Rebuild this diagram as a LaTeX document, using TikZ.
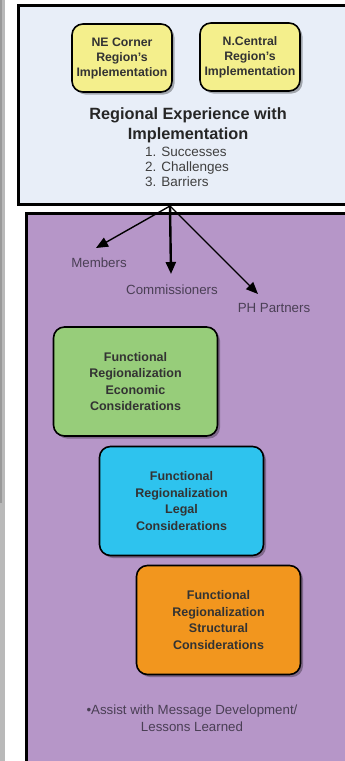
\documentclass[tikz,border=0pt]{standalone}
\usepackage{fontspec}
\setmainfont{Liberation Sans}
\usetikzlibrary{arrows.meta,shadows}
\definecolor{topbg}{HTML}{E8EEF8}
\definecolor{purp}{HTML}{B696C8}
\definecolor{yel}{HTML}{F4EF8C}
\definecolor{grn}{HTML}{97CD7A}
\definecolor{blu}{HTML}{2EC3EE}
\definecolor{org}{HTML}{F2961E}
\definecolor{lbl}{HTML}{4A3F55}
\tikzset{
  cbox/.style={draw=black, line width=1.6pt, rounded corners=11pt, align=center,
    inner sep=0pt, font=\bfseries, text=black!80,
    drop shadow={shadow xshift=2.5pt, shadow yshift=-2.5pt, fill=black, opacity=.3}},
  ybox/.style={cbox, fill=yel, minimum width=100pt, minimum height=68pt,
    font=\fontsize{12.3}{15}\selectfont\bfseries},
  fbox/.style={cbox, minimum width=164pt, minimum height=109pt,
    font=\fontsize{12.5}{16.5}\selectfont\bfseries},
  lab/.style={text=lbl, font=\fontsize{13.3}{16}\selectfont, inner sep=0pt},
  arr/.style={-{Triangle[length=12pt,width=10pt]}, line width=1.4pt, black}
}
\begin{document}
\begin{tikzpicture}[x=1pt,y=-1pt]
\useasboundingbox (0,0) rectangle (345,761);
% left gray strip
\fill[gray!55] (0,0) rectangle (5,761);
\fill[gray!80] (0,0) rectangle (2,503);
% top panel
\draw[fill=topbg, line width=3pt] (18,5) rectangle (352,204);
% purple panel
\draw[fill=purp, line width=3pt] (26.5,213.5) rectangle (352,775);
% yellow boxes
\node[ybox] (ne) at (122,58) {NE Corner\\Region's\\Implementation};
\node[ybox] (nc) at (250,57) {N.Central\\Region's\\Implementation};
% regional experience text
\node[align=center, inner sep=0pt, text=black!85, font=\fontsize{16.3}{20}\selectfont\bfseries] (reg) at (188,125)
  {Regional Experience with\\Implementation};
\node[align=left, inner sep=0pt, text=black!75, font=\fontsize{13.5}{15}\selectfont, anchor=north west] (list) at (145,147)
  {1. Successes\\2. Challenges\\3. Barriers};
% arrows
\coordinate (src) at (170,206);
\coordinate (tipM) at (96,248);
\coordinate (tipC) at (171,274);
\coordinate (tipP) at (258,294);
\draw[arr] (src) -- (tipM);
\draw[arr, line width=2.4pt] (src) -- (tipC);
\draw[arr] (src) -- (tipP);
\node[lab] (mem) at (99,263) {Members};
\node[lab] (com) at (172,290) {Commissioners};
\node[lab] (ph) at (274,308) {PH Partners};
% functional boxes
\node[fbox, fill=grn] (eco) at (135.5,381.5) {Functional\\Regionalization\\Economic\\Considerations};
\node[fbox, fill=blu] (leg) at (181.5,501) {Functional\\Regionalization\\Legal\\Considerations};
\node[fbox, fill=org] (str) at (218.5,620) {Functional\\Regionalization\\Structural\\Considerations};
% bottom text
\node[lab, align=center, font=\fontsize{13.3}{17}\selectfont] (assist) at (192,718)
  {\textbullet Assist with Message Development/\\Lessons Learned};
\end{tikzpicture}
\end{document}
